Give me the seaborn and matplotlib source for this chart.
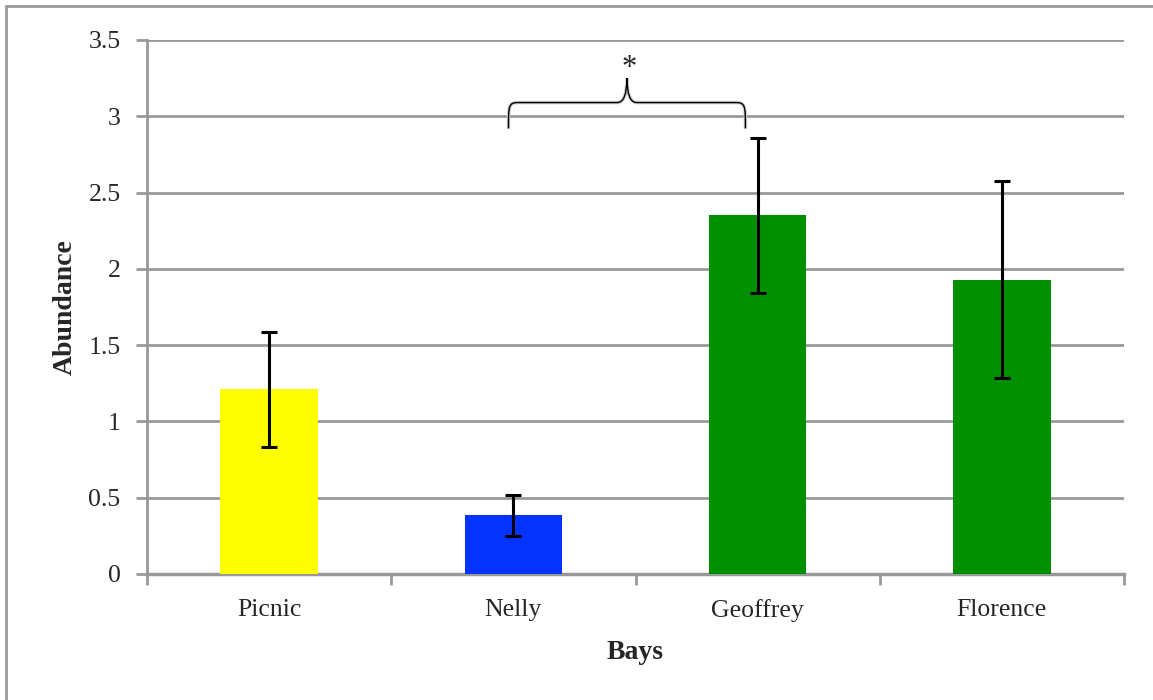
import matplotlib
matplotlib.use("Agg")
import matplotlib.pyplot as plt
from matplotlib.lines import Line2D
from matplotlib.path import Path
from matplotlib.patches import PathPatch
import numpy as np
import pandas as pd
import seaborn as sns

# Mean abundance per bay with error bar half-widths
bays = ["Picnic", "Nelly", "Geoffrey", "Florence"]
abundance = [1.21, 0.385, 2.35, 1.93]
errors = [0.375, 0.135, 0.51, 0.645]
bar_colors = ["#ffff00", "#0433ff", "#008f00", "#008f00"]
y_ticks = [0, 0.5, 1, 1.5, 2, 2.5, 3, 3.5]
y_tick_labels = ["0", "0.5", "1", "1.5", "2", "2.5", "3", "3.5"]

sns.set_theme(style="white")
plt.rcParams["font.family"] = ["Liberation Serif", "DejaVu Serif"]

df = pd.DataFrame({"Bays": bays, "Abundance": abundance})

fig = plt.figure(figsize=(11.53, 7.0), dpi=100)
ax = fig.add_axes([147 / 1153, 126 / 700, (1124 - 147) / 1153, (574 - 40) / 700])

sns.barplot(data=df, x="Bays", y="Abundance", hue="Bays", palette=bar_colors,
            legend=False, width=0.4, ax=ax, errorbar=None, zorder=3,
            saturation=1, linewidth=0)
ax.errorbar(np.arange(len(bays)), abundance, yerr=errors, fmt="none",
            ecolor="black", elinewidth=2.2, capsize=5.5, capthick=2.2, zorder=4)

ax.set_xlim(-0.5, len(bays) - 0.5)
ax.set_ylim(0, 3.5)
ax.set_yticks(y_ticks)
ax.set_yticklabels(y_tick_labels)

grid_color = "#999999"
ax.yaxis.grid(True, color=grid_color, linewidth=2, zorder=0)
ax.set_axisbelow(True)
for side in ["top", "right"]:
    ax.spines[side].set_visible(False)
ax.spines["left"].set_color(grid_color)
ax.spines["left"].set_linewidth(2)
ax.spines["bottom"].set_color(grid_color)
ax.spines["bottom"].set_linewidth(2.5)

# category boundary ticks on the x axis
ax.set_xticks(np.arange(-0.5, len(bays), 1.0), minor=True)
ax.tick_params(axis="x", which="minor", length=8, width=2, color=grid_color,
               direction="out", bottom=True)
ax.tick_params(axis="x", which="major", length=0, pad=18, labelsize=18.5)
ax.tick_params(axis="y", length=8, width=2, color=grid_color, direction="out",
               left=True, labelsize=18.5, pad=11)

ax.set_xlabel("Bays", fontsize=20, fontweight="bold", labelpad=13)
ax.set_ylabel("Abundance", fontsize=20, fontweight="bold", labelpad=8)

# curly brace marking the significant difference
x0, x1 = 0.98, 1.95
xm = (x0 + x1) / 2
yb, yh, yp = 2.92, 3.09, 3.25
r = 0.04
verts = [
    (x0, yb), (x0, yh - 0.02), (x0, yh), (x0 + r, yh),
    (xm - r, yh), (xm, yh), (xm, yp),
    (xm, yh), (xm + r, yh),
    (x1 - r, yh), (x1, yh), (x1, yh - 0.02), (x1, yb),
]
codes = [
    Path.MOVETO, Path.CURVE4, Path.CURVE4, Path.CURVE4,
    Path.LINETO, Path.CURVE3, Path.CURVE3,
    Path.CURVE3, Path.CURVE3,
    Path.LINETO, Path.CURVE4, Path.CURVE4, Path.CURVE4,
]
ax.add_patch(PathPatch(Path(verts, codes), facecolor="none", edgecolor="#cccccc",
                       linewidth=2.5, zorder=5, clip_on=False))
ax.add_patch(PathPatch(Path(verts, codes), facecolor="none", edgecolor="black",
                       linewidth=1.0, zorder=6, clip_on=False))
ax.text(xm + 0.01, 3.31, "*", ha="center", va="center", fontsize=22, zorder=6)

# chart frame along the left and top edges
fig.add_artist(Line2D([6 / 1153, 6 / 1153], [0, 1 - 6 / 700],
                      transform=fig.transFigure, color="#999999", linewidth=2))
fig.add_artist(Line2D([6 / 1153, 1], [1 - 6 / 700, 1 - 6 / 700],
                      transform=fig.transFigure, color="#999999", linewidth=2))

fig.savefig("out.png", dpi=100, facecolor="white")
